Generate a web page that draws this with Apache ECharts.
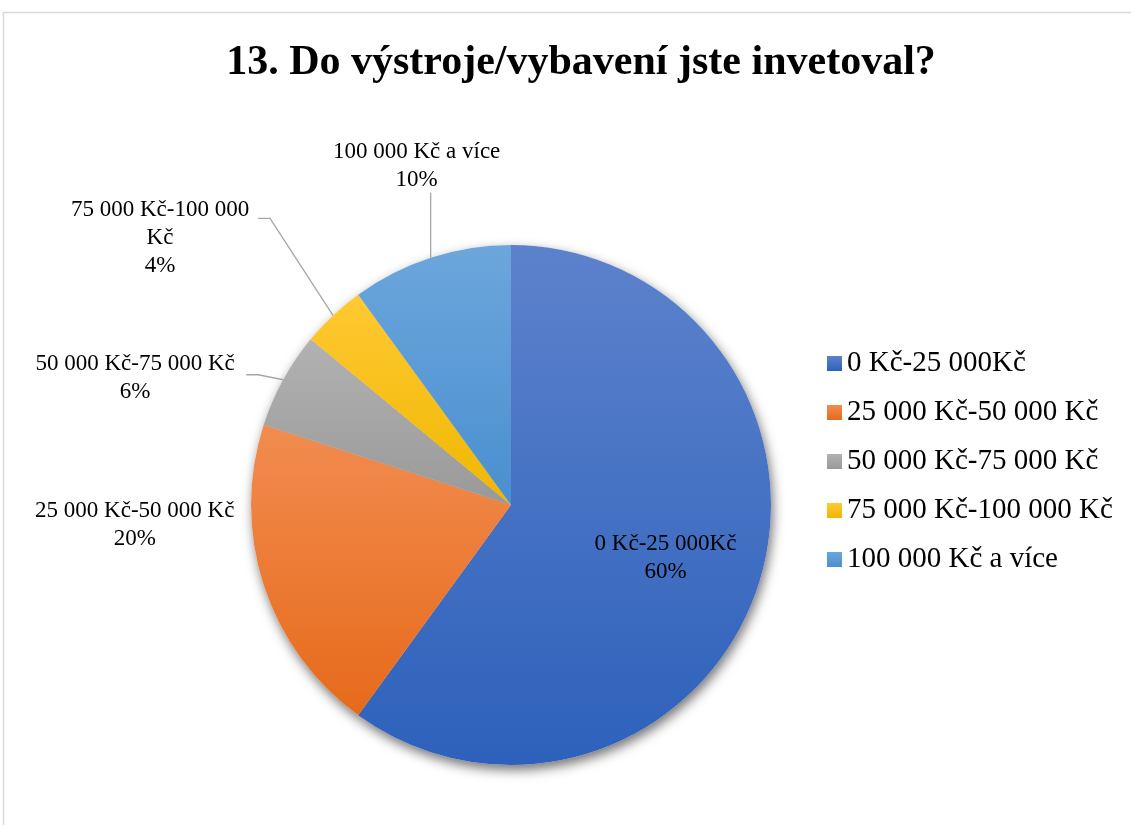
<!DOCTYPE html>
<html>
<head>
<meta charset="utf-8">
<title>13. Do výstroje/vybavení jste invetoval?</title>
<script src="https://cdn.jsdelivr.net/npm/echarts@6/dist/echarts.min.js"></script>
<style>
  html, body { margin: 0; padding: 0; background: #fff; }
  #chart { width: 1131px; height: 825px; }
</style>
</head>
<body>
<div id="chart"></div>
<script>
// data
const categories = ['0 Kč-25 000Kč', '25 000 Kč-50 000 Kč', '50 000 Kč-75 000 Kč', '75 000 Kč-100 000 Kč', '100 000 Kč a více']
const shares = [60, 20, 6, 4, 10]
// the label text is wrapped like in the original
const labelNames = ['0 Kč-25 000Kč', '25 000 Kč-50 000 Kč', '50 000 Kč-75 000 Kč', '75 000 Kč-100 000\nKč', '100 000 Kč a více']

// office-like gradient, lighter on top
const topColors = ['#5d82cc', '#f28c50', '#b2b2b2', '#ffc933', '#6ca6dc']
const bottomColors = ['#2d61bb', '#e66a1a', '#999999', '#efb700', '#4a8fd0']

// where each label sits relative to the slice edge point
const labelPlace = [
  { dx: 28, dy: 12 },
  { ox: -129, oy: -60, line: [[0, 0]] },
  { ox: -148, oy: -2, line: [[-25, -5], [-37, -5]] },
  { ox: -173, oy: -78, line: [[-63, -97], [-75, -97]] },
  { ox: -14, oy: -92, line: [[0, -65]] }
]

const serif = '"Liberation Serif", "Times New Roman", serif'

const sliceData = categories.map((name, i) => ({
  name: name,
  value: shares[i],
  itemStyle: {
    color: new echarts.graphic.LinearGradient(0, 0, 0, 1, [
      { offset: 0, color: topColors[i] },
      { offset: 1, color: bottomColors[i] }
    ])
  },
  label: {
    position: i === 0 ? 'inside' : 'outside',
    formatter: p => labelNames[p.dataIndex] + '\n' + p.percent + '%'
  },
  labelLine: i === 0 ? { show: false } : {}
}))

const chart = echarts.init(document.getElementById('chart'), null, { renderer: 'canvas' })

chart.setOption({
  backgroundColor: '#fff',
  animation: false,
  graphic: [{
    type: 'rect',
    silent: true,
    shape: { x: 3.5, y: 12.5, width: 1200, height: 900 },
    style: { fill: 'none', stroke: '#d9d9d9', lineWidth: 1.5 }
  }],
  title: {
    text: '13. Do výstroje/vybavení jste invetoval?',
    left: 576,
    textAlign: 'center',
    top: 37,
    textStyle: { fontFamily: serif, fontSize: 42, fontWeight: 'bold', color: '#000' }
  },
  legend: {
    orient: 'vertical',
    left: 822,
    top: 344,
    icon: 'rect',
    itemWidth: 15,
    itemHeight: 15,
    itemGap: 20,
    data: categories,
    textStyle: { fontFamily: serif, fontSize: 29, color: '#000' }
  },
  series: [
    {
      name: 'investice',
      type: 'pie',
      z: 3,
      center: [511, 505],
      radius: 260,
      startAngle: 90,
      clockwise: true,
      avoidLabelOverlap: false,
      data: sliceData,
      label: {
        show: true,
        fontFamily: serif,
        fontSize: 23,
        lineHeight: 28,
        color: '#000',
        align: 'center'
      },
      labelLine: {
        show: true,
        length: 15,
        length2: 15,
        lineStyle: { color: '#a6a6a6', width: 1.3 }
      },
      labelLayout: function (p) {
        const s = labelPlace[p.dataIndex]
        if (p.dataIndex === 0) {
          return { dx: s.dx, dy: s.dy }
        }
        const p0 = p.labelLinePoints[0]
        const pts = [p0].concat(s.line.map(d => [p0[0] + d[0], p0[1] + d[1]]))
        return {
          x: p0[0] + s.ox,
          y: p0[1] + s.oy,
          align: 'center',
          verticalAlign: 'middle',
          labelLinePoints: pts
        }
      }
    },
    {
      // drop shadow under the pie
      name: 'stin',
      type: 'pie',
      z: 1,
      silent: true,
      center: [511, 505],
      radius: 260,
      startAngle: 90,
      clockwise: true,
      data: categories.map((name, i) => ({ name: name, value: shares[i] })),
      label: { show: false },
      labelLine: { show: false },
      itemStyle: {
        color: '#fff',
        shadowBlur: 12,
        shadowOffsetX: 2,
        shadowOffsetY: 5,
        shadowColor: 'rgba(0,0,0,0.55)'
      },
      emphasis: { disabled: true }
    }
  ]
})
</script>
</body>
</html>
